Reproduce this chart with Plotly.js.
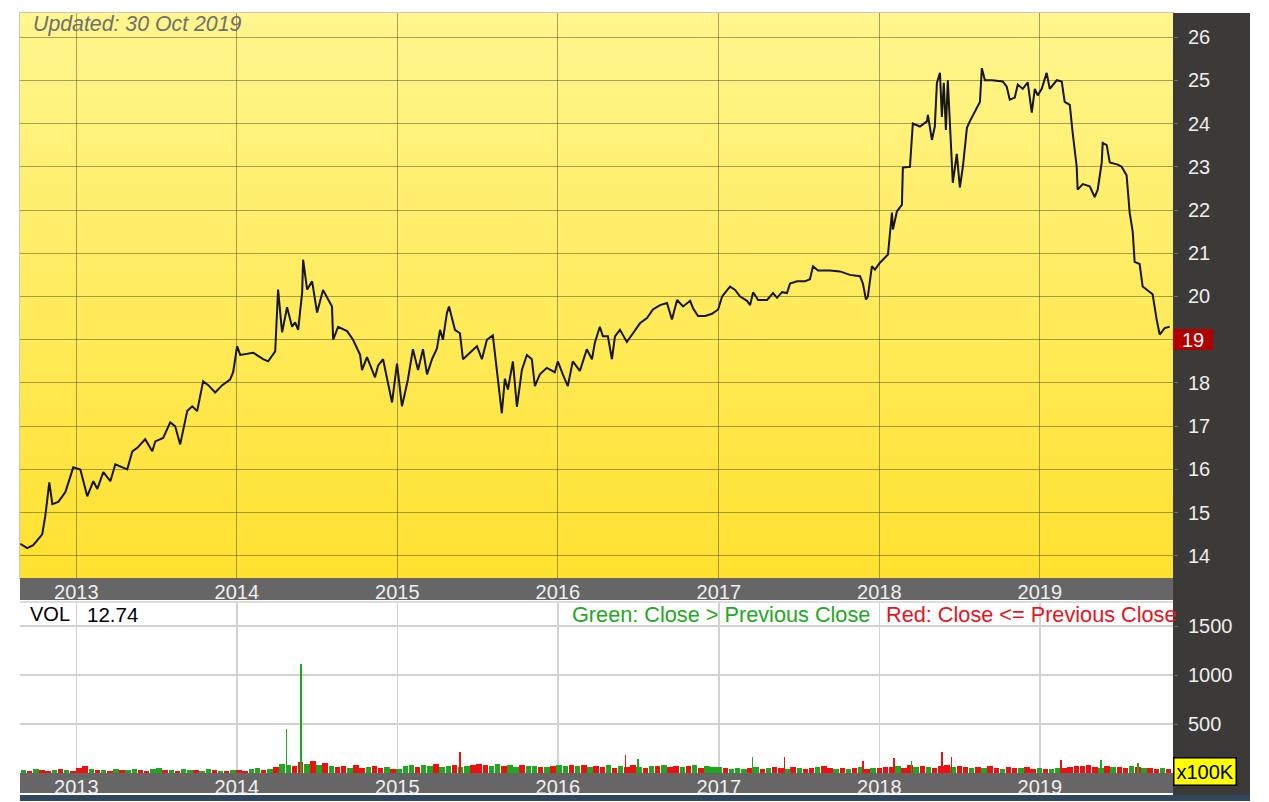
<!DOCTYPE html>
<html><head><meta charset="utf-8">
<script src="https://cdn.plot.ly/plotly-3.0.1.min.js"></script>
<style>
html,body{margin:0;padding:0;background:#fff;}
#wrap{position:relative;width:1269px;height:802px;overflow:hidden;background:#fff;}
#grad{position:absolute;left:19px;top:12px;width:1155px;height:567px;background:linear-gradient(#fff68e,#ffe12f);border-left:1px solid #c8c8c8;border-top:1px solid #c8c8c8;box-sizing:border-box;}
#chart{position:absolute;left:0;top:0;width:1269px;height:802px;}
</style></head><body>
<div id="wrap"><div id="grad"></div><div id="chart"></div></div>
<script>
// ---- DATA ----
// price: time as decimal year, close price
const priceT = [2012.652,2012.695,2012.732,2012.788,2012.807,2012.832,2012.851,2012.888,2012.932,2012.981,
2013.025,2013.068,2013.106,2013.131,2013.168,2013.212,2013.243,2013.317,2013.349,2013.380,
2013.429,2013.473,2013.492,2013.541,2013.585,2013.616,2013.647,2013.691,2013.722,2013.753,
2013.790,2013.822,2013.865,2013.909,2013.958,2013.977,2014.002,2014.021,2014.102,2014.164,
2014.195,2014.239,2014.257,2014.282,2014.313,2014.344,2014.363,2014.382,2014.407,2014.413,
2014.438,2014.469,2014.500,2014.537,2014.593,2014.600,2014.631,2014.687,2014.724,2014.768,
2014.780,2014.811,2014.861,2014.880,2014.911,2014.936,2014.967,2014.998,2015.029,2015.066,
2015.097,2015.129,2015.160,2015.185,2015.216,2015.247,2015.266,2015.284,2015.309,2015.322,
2015.359,2015.390,2015.409,2015.452,2015.496,2015.527,2015.558,2015.595,2015.620,2015.651,
2015.670,2015.689,2015.720,2015.745,2015.776,2015.807,2015.838,2015.857,2015.888,2015.931,
2015.981,2016.000,2016.031,2016.062,2016.093,2016.137,2016.180,2016.212,2016.230,2016.261,
2016.280,2016.311,2016.336,2016.355,2016.386,2016.429,2016.467,2016.510,2016.554,2016.591,
2016.635,2016.678,2016.709,2016.741,2016.778,2016.822,2016.840,2016.871,2016.915,2016.958,
2016.996,2017.021,2017.070,2017.102,2017.133,2017.176,2017.195,2017.214,2017.245,2017.301,
2017.338,2017.363,2017.394,2017.425,2017.444,2017.488,2017.537,2017.568,2017.587,2017.618,
2017.693,2017.755,2017.817,2017.880,2017.898,2017.917,2017.929,2017.954,2017.973,2018.004,
2018.054,2018.079,2018.085,2018.110,2018.141,2018.147,2018.191,2018.209,2018.253,2018.297,
2018.303,2018.328,2018.346,2018.359,2018.378,2018.390,2018.402,2018.415,2018.427,2018.440,
2018.458,2018.483,2018.502,2018.521,2018.546,2018.564,2018.595,2018.627,2018.639,2018.658,
2018.701,2018.770,2018.794,2018.813,2018.844,2018.863,2018.894,2018.925,2018.950,2018.969,
2018.987,2019.012,2019.043,2019.062,2019.106,2019.137,2019.155,2019.187,2019.205,2019.230,
2019.236,2019.268,2019.311,2019.342,2019.361,2019.386,2019.392,2019.417,2019.436,2019.486,
2019.510,2019.541,2019.560,2019.579,2019.591,2019.622,2019.641,2019.666,2019.703,2019.728,
2019.747,2019.778,2019.809];
const priceV = [14.28,14.18,14.25,14.50,14.92,15.70,15.20,15.25,15.48,16.05,
16.00,15.38,15.73,15.55,15.94,15.73,16.12,16.00,16.42,16.50,
16.70,16.42,16.65,16.73,17.09,17.00,16.58,17.35,17.46,17.35,
18.04,17.95,17.78,17.95,18.08,18.25,18.85,18.65,18.70,18.55,
18.50,18.73,20.16,19.17,19.75,19.30,19.40,19.23,20.09,20.85,
20.16,20.35,19.63,20.15,19.77,19.00,19.30,19.20,19.00,18.65,
18.30,18.60,18.13,18.40,18.55,18.10,17.55,18.45,17.46,18.08,
18.78,18.30,18.78,18.20,18.55,18.80,19.23,19.00,19.62,19.77,
19.23,19.15,18.55,18.70,18.85,18.55,19.00,19.10,18.30,17.30,
18.10,17.85,18.50,17.45,18.30,18.65,18.55,17.93,18.20,18.35,
18.25,18.50,18.20,17.93,18.50,18.28,18.78,18.55,18.93,19.30,
19.08,19.08,18.55,19.08,19.23,18.95,19.15,19.38,19.50,19.70,
19.80,19.85,19.47,19.92,19.77,19.90,19.73,19.55,19.55,19.60,
19.70,20.00,20.23,20.15,20.00,19.90,19.80,20.10,19.92,19.92,
20.08,19.97,20.10,20.08,20.30,20.35,20.35,20.40,20.70,20.60,
20.60,20.58,20.50,20.47,20.30,19.93,20.00,20.70,20.62,20.78,
20.97,21.94,21.55,21.97,22.12,22.98,23.00,24.00,23.93,24.05,
24.20,23.62,23.93,24.94,25.17,24.15,24.94,23.85,25.00,24.00,
22.63,23.30,22.52,23.00,23.90,24.05,24.27,24.50,25.28,25.00,
25.00,24.97,24.85,24.55,24.60,24.90,24.80,24.95,24.25,24.80,
24.65,24.80,25.17,24.80,25.00,24.97,24.50,24.43,23.78,23.00,
22.47,22.60,22.55,22.30,22.47,23.10,23.55,23.50,23.10,23.05,
23.00,22.80,21.94,21.50,20.80,20.75,20.23,20.15,20.05,19.47,
19.12,19.27,19.30];

// volume (x100K), fortnightly blocks starting 2012-08-27, g = up, r = down
const volStart = '2012-08-27';
const volStepDays = 14;
const volume = [30,25,40,35,20,30,45,35,25,55, 70,40,30,35,25,40,30,35,45,30, 25,40,50,35,30,25,40,35,30,25, 45,30,25,20,35,30,
20,45,55,35,40,
60,90,85,70,110,95,125,80,100,70,
60,75,55,80,50,65,70,55,60,45,40,
70,85,60,80,75,90,65,70,85,60, 75,80,95,85,70,90,75,80,60,85, 70,75,65,60,70,85,75,
80,70,85,65,75,60,80,55,70,65, 80,60,55,75,70,85,65,70,60,75, 80,55,70,65,60,50,
45,55,40,50,60,45,55,65,50,40, 60,55,45,50,60,70,55,45,50,40, 55,60,45,50,55,60,
65,70,55,80,60,75,65,55,70,85, 60,70,65,55,60,50,70,55,45,60, 50,55,65,45,50,40,
45,55,50,60,75,70,80,65,55,70, 60,65,55,70,60,50,55,45,50,40];
const volDir = 'grgrrgrgrr'+'rgrgrgrggr'+'rggrgrggrg'+'grgrgr'+
'rggrg'+'rggrrgrgrg'+'rrgrrgrrgrg'+
'ggrggrggrg'+'grrrggrggr'+'ggrgrgg'+
'rgrgrrgrgr'+'rgrgrgrrgr'+'grgggr'+
'gggrgrgrrg'+'rgrrgrrgrg'+'rgrgrr'+
'rgrrgrgrrr'+'grrgrgrrgr'+'rgrrgr'+
'ggrrrrrrgr'+'grrgrgrrgr';
// single-day volume spikes
const spikeT = [2014.310,2014.400,2015.390,2016.420,2016.500,2017.210,2017.410,2017.900,2018.090,2018.200,2018.390,2018.450,2019.130,2019.380,2019.610];
const spikeV = [450,1115,215,180,145,160,160,120,155,120,215,160,135,135,100];
const spikeDir = 'ggrrggrrrgrrrgg';

const yearTicks = [2013,2014,2015,2016,2017,2018,2019];
const priceTicks = [14,15,16,17,18,19,20,21,22,23,24,25,26];
const volTicks = [500,1000,1500];
const lastPriceLabel = '19';
const lastPriceLevel = 19;
const updatedText = 'Updated: 30 Oct 2019';
const volLabel = 'VOL';
const volValue = '12.74';
const upText = 'Green: Close &gt; Previous Close';
const downText = 'Red: Close &lt;= Previous Close';
const unitText = 'x100K';

// ---- helpers ----
function fmt(ms){const d=new Date(ms);const p=n=>String(n).padStart(2,'0');
  return d.getUTCFullYear()+'-'+p(d.getUTCMonth()+1)+'-'+p(d.getUTCDate())+' '+p(d.getUTCHours())+':'+p(d.getUTCMinutes());}
function dy(t){const y=Math.floor(t);const a=Date.UTC(y,0,1),b=Date.UTC(y+1,0,1);return fmt(a+(t-y)*(b-a));}
const DAY=86400000;
const GREEN='#1fa71f', RED='#ee1010';

const volX=[], volC=[];
const s0=Date.parse(volStart+'T00:00:00Z');
for(let i=0;i<volume.length;i++){volX.push(fmt(s0+(i*volStepDays+volStepDays/2)*DAY));volC.push(volDir[i]==='g'?GREEN:RED);}

const traces=[
 {type:'scatter',mode:'lines',x:priceT.map(dy),y:priceV,xaxis:'x',yaxis:'y',
  line:{color:'#161616',width:2},hoverinfo:'skip'},
 {type:'bar',x:volX,y:volume,xaxis:'x2',yaxis:'y2',width:12.5*DAY,
  marker:{color:volC,line:{width:0}},hoverinfo:'skip'},
 {type:'bar',x:spikeT.map(dy),y:spikeV,xaxis:'x2',yaxis:'y2',width:4*DAY,
  marker:{color:spikeDir.split('').map(c=>c==='g'?GREEN:RED),line:{width:0}},hoverinfo:'skip'}
];

// ---- layout geometry (pixels) ----
const L=20,R=1173,T=13,B=773;
const px=x=>(x-L)/(R-L), py=y=>(B-y)/(B-T);
const FONT='"Liberation Sans", Arial, sans-serif';
const range=[dy(2012.650),dy(2019.830)];
const tickDates=yearTicks.map(y=>y+'-01-01');
const tickTxt=yearTicks.map(String);
// the last-price badge replaces its own tick label
const priceTickTxt=priceTicks.map(v=>v===lastPriceLevel?'':String(v));

const layout={
 width:1269,height:802,margin:{l:L,r:1269-R,t:T,b:802-B},
 paper_bgcolor:'rgba(0,0,0,0)',plot_bgcolor:'rgba(0,0,0,0)',
 font:{family:FONT,size:20,color:'#000'},
 showlegend:false,barmode:'overlay',bargap:0,
 xaxis:{domain:[0,1],anchor:'y',type:'date',range:range,tickmode:'array',tickvals:tickDates,ticktext:tickTxt,
   showgrid:true,gridcolor:'rgba(60,60,30,0.45)',gridwidth:1,zeroline:false,showline:false,ticks:'',
   tickfont:{family:FONT,size:20,color:'#f0f0f0'},ticklabelstandoff:0},
 yaxis:{domain:[py(578),1],anchor:'x',side:'right',range:[13.491,26.555],tickmode:'array',tickvals:priceTicks,ticktext:priceTickTxt,
   showgrid:true,gridcolor:'rgba(60,60,30,0.45)',gridwidth:1,zeroline:false,showline:false,
   ticks:'outside',ticklen:4,tickcolor:'#6a6a6a',ticklabelstandoff:6,
   tickfont:{family:FONT,size:20,color:'#eeeeee'}},
 xaxis2:{domain:[0,1],anchor:'y2',type:'date',range:range,tickmode:'array',tickvals:tickDates,ticktext:tickTxt,
   showgrid:true,gridcolor:'#d2d2d2',gridwidth:1.5,zeroline:false,showline:false,ticks:'',
   tickfont:{family:FONT,size:20,color:'#f0f0f0'}},
 yaxis2:{domain:[0,py(603)],anchor:'x2',side:'right',range:[0,1735],tickmode:'array',tickvals:volTicks,
   showgrid:true,gridcolor:'#d2d2d2',gridwidth:1.5,zeroline:false,showline:false,
   ticks:'outside',ticklen:4,tickcolor:'#6a6a6a',ticklabelstandoff:6,
   tickfont:{family:FONT,size:20,color:'#eeeeee'}},
 shapes:[
  {type:'rect',xref:'paper',yref:'paper',x0:px(20),x1:px(1173),y0:py(600),y1:py(578),fillcolor:'#666666',line:{width:0},layer:'below'},
  {type:'rect',xref:'paper',yref:'paper',x0:px(20),x1:px(1173),y0:py(793),y1:py(773),fillcolor:'#666666',line:{width:0},layer:'below'},
  {type:'rect',xref:'paper',yref:'paper',x0:px(1173),x1:px(1250),y0:py(795),y1:py(13),fillcolor:'#3c3939',line:{width:0},layer:'below'},
  {type:'rect',xref:'paper',yref:'paper',x0:px(20),x1:px(1250),y0:py(801),y1:py(795),fillcolor:'#2f465c',line:{width:0},layer:'below'},
  {type:'line',xref:'paper',yref:'paper',x0:px(20),x1:px(1173),y0:py(602),y1:py(602),line:{color:'#d2d2d2',width:1.5},layer:'below'}
 ],
 annotations:[
  {xref:'paper',yref:'paper',x:px(31),y:py(24),xanchor:'left',yanchor:'middle',showarrow:false,
   text:'<i>'+updatedText+'</i>',font:{family:FONT,size:21.3,color:'#707070'}},
  {xref:'paper',yref:'paper',x:px(28),y:py(614),xanchor:'left',yanchor:'middle',showarrow:false,
   text:volLabel,font:{family:FONT,size:20,color:'#000'}},
  {xref:'paper',yref:'paper',x:px(85),y:py(614),xanchor:'left',yanchor:'middle',showarrow:false,
   text:volValue,font:{family:FONT,size:20.5,color:'#000'}},
  {xref:'paper',yref:'paper',x:px(570),y:py(614),xanchor:'left',yanchor:'middle',showarrow:false,
   text:upText,font:{family:FONT,size:21.7,color:'#22a822'}},
  {xref:'paper',yref:'paper',x:px(884),y:py(614),xanchor:'left',yanchor:'middle',showarrow:false,
   text:downText,font:{family:FONT,size:21.7,color:'#e8141c'}},
  {xref:'paper',yref:'y',x:1,y:lastPriceLevel,xanchor:'left',yanchor:'middle',showarrow:false,
   text:lastPriceLabel,bgcolor:'#b00000',borderwidth:0,borderpad:2,width:36,height:17,align:'center',
   font:{family:FONT,size:20,color:'#ffffff'}},
  {xref:'paper',yref:'y2',x:1,y:20,xanchor:'left',yanchor:'middle',showarrow:false,
   text:unitText,bgcolor:'#ffff00',bordercolor:'#000',borderwidth:1.5,borderpad:2,
   font:{family:FONT,size:20,color:'#000'}}
 ]
};
Plotly.newPlot('chart',traces,layout,{staticPlot:true,displayModeBar:false});
</script>
</body></html>
